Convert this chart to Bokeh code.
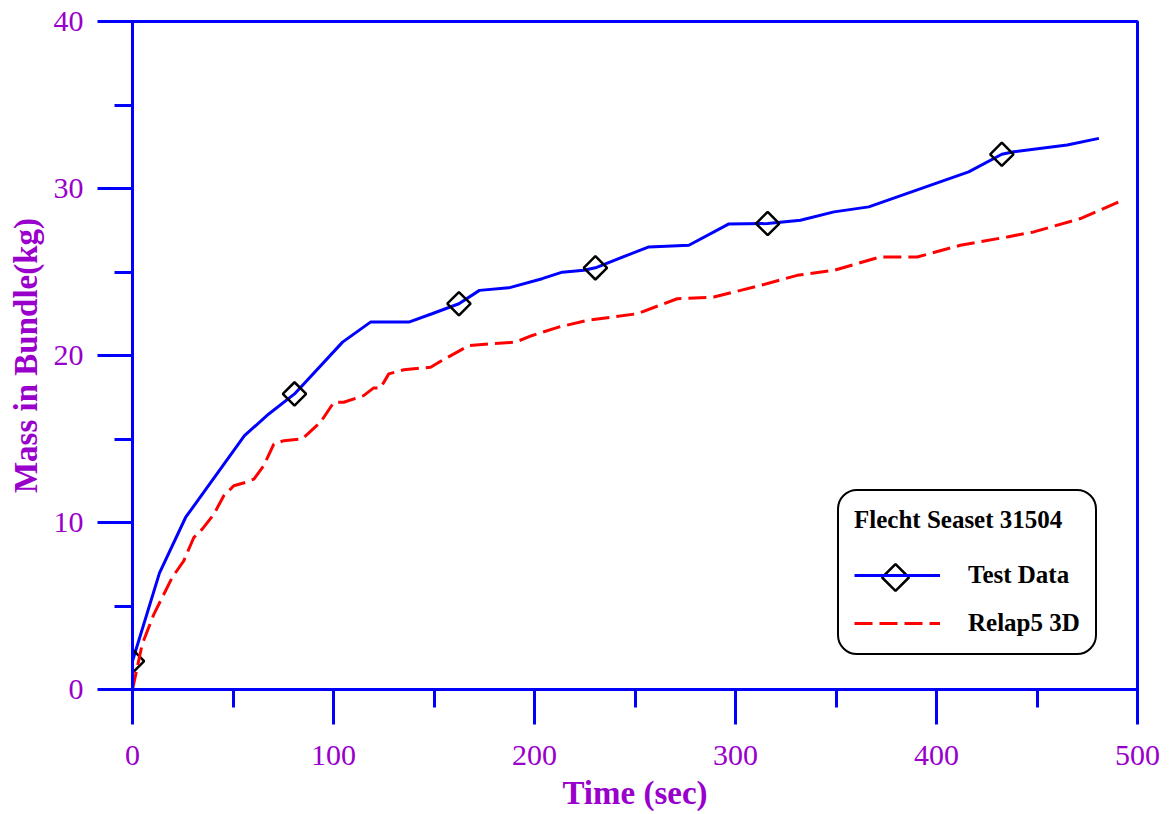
import numpy as np
from bokeh.plotting import figure
from bokeh.models import (Range1d, SingleIntervalTicker, Legend, LegendItem)
from bokeh.embed import file_html
from bokeh.resources import INLINE

# ---------------- data ----------------
test_time = [0, 13.4, 26.4, 55.7, 67.8, 80.6, 104.5, 118.4, 137.5, 149, 162.4,
             172.6, 187.2, 203.8, 213.8, 224.5, 230.3, 246, 256.9, 276.8, 296.5,
             316, 332.3, 349, 366.3, 416, 432.5, 438.5, 465, 480.8]
test_mass = [1.7, 6.97, 10.3, 15.2, 16.5, 17.7, 20.8, 22.0, 22.0, 22.5, 23.1,
             23.9, 24.05, 24.6, 24.99, 25.1, 25.25, 26.0, 26.5, 26.6, 27.87,
             27.9, 28.1, 28.6, 28.9, 31.0, 32.05, 32.2, 32.6, 33.0]

marker_time = [0, 80.6, 162.4, 230.3, 316, 432.5]
marker_mass = [1.7, 17.7, 23.1, 25.25, 27.9, 32.05]

relap_time = [0, 4.8, 10.6, 19.7, 25.5, 30.5, 34.7, 40.5, 45.4, 50.4, 56.2,
              60.4, 65.3, 70.3, 75.3, 84.4, 93.5, 100.2, 105.1, 115, 120,
              123.4, 127.5, 135, 148.3, 154, 161.5, 167.3, 190.5, 198.9, 212,
              226.2, 251, 271, 289.2, 302.5, 312.4, 330.7, 349, 372, 390.4,
              411.9, 435.2, 448.4, 471.6, 490.7]
relap_mass = [0, 2.7, 4.5, 6.7, 7.7, 9.1, 9.6, 10.5, 11.6, 12.2, 12.4,
              12.6, 13.4, 14.7, 14.9, 15.0, 16.0, 17.2, 17.2, 17.6, 18.06,
              18.06, 18.9, 19.15, 19.3, 19.7, 20.2, 20.6, 20.8, 21.2, 21.7,
              22.1, 22.5, 23.4, 23.5, 23.9, 24.2, 24.8, 25.1, 25.9, 25.9,
              26.6, 27.1, 27.4, 28.2, 29.2]

legend_title = "Flecht Seaset 31504"
series_names = ["Test Data", "Relap5 3D"]
x_label = "Time (sec)"
y_label = "Mass in Bundle(kg)"

# ---------------- layout / styling ----------------
FONT = "Liberation Serif"
AXIS_BLUE = "#0000FF"
PURPLE = "#9900CC"

W, H = 1160, 814
BL, BR, BT = 132, 23, 21
FRAME_W, FRAME_H = 1005, 668
BB = H - BT - FRAME_H

# legend geometry (screen px, relative to the frame's bottom-left)
LEG_X, LEG_Y = 705, 34
LEG_PAD, GLYPH_W, GLYPH_H, ITEM_SPACING = 15, 86, 30, 18

p = figure(width=W, height=H, output_backend="svg", toolbar_location=None,
           x_range=Range1d(0, 500), y_range=Range1d(0, 40),
           min_border_left=BL, min_border_right=BR, min_border_top=BT,
           min_border_bottom=BB)
p.extra_x_ranges = {"px": Range1d(0, FRAME_W)}
p.extra_y_ranges = {"px": Range1d(0, FRAME_H)}
p.background_fill_color = "white"
p.border_fill_color = "white"
p.outline_line_color = AXIS_BLUE
p.outline_line_width = 3
p.xgrid.visible = False
p.ygrid.visible = False

p.xaxis.ticker = SingleIntervalTicker(interval=100, num_minor_ticks=2)
p.yaxis.ticker = SingleIntervalTicker(interval=10, num_minor_ticks=2)

for ax in (p.xaxis, p.yaxis):
    ax.axis_line_color = AXIS_BLUE
    ax.axis_line_width = 3
    ax.major_tick_line_color = AXIS_BLUE
    ax.major_tick_line_width = 3
    ax.minor_tick_line_color = AXIS_BLUE
    ax.minor_tick_line_width = 3
    ax.major_tick_in = 0
    ax.major_tick_out = 35
    ax.minor_tick_in = 0
    ax.minor_tick_out = 18
    ax.major_label_text_font = FONT
    ax.major_label_text_font_size = "30px"
    ax.major_label_text_color = PURPLE
    ax.axis_label_text_font = FONT
    ax.axis_label_text_font_size = "33px"
    ax.axis_label_text_font_style = "bold"
    ax.axis_label_text_color = PURPLE

p.xaxis.axis_label = x_label
p.yaxis.axis_label = y_label
p.xaxis.major_label_standoff = 21
p.yaxis.major_label_standoff = 14
p.xaxis.axis_label_standoff = 7
p.yaxis.axis_label_standoff = 7

# ---------------- data renderers ----------------
r_test = p.line(test_time, test_mass, line_color=AXIS_BLUE, line_width=3)
r_mark = p.scatter(marker_time, marker_mass, marker="square", angle=np.pi / 4,
                   size=16.5, fill_color=None, line_color="black", line_width=2.5)
r_relap = p.line(relap_time, relap_mass, line_color="#FF0000", line_width=3,
                 line_dash="18 7")

legend = Legend(items=[LegendItem(label=series_names[0], renderers=[r_test]),
                       LegendItem(label=series_names[1], renderers=[r_relap])],
                location=(LEG_X, LEG_Y), margin=0, padding=LEG_PAD,
                title=legend_title, title_text_font=FONT,
                title_text_font_size="25px", title_text_font_style="bold",
                title_text_color="black", title_standoff=26,
                label_text_font=FONT, label_text_font_size="25px",
                label_text_font_style="bold", label_text_color="black",
                glyph_width=GLYPH_W, glyph_height=GLYPH_H, label_height=GLYPH_H,
                label_standoff=28, spacing=ITEM_SPACING,
                border_line_color="black", border_line_width=2,
                border_line_alpha=1.0,
                background_fill_alpha=0.0)
if "border_radius" in Legend.properties():
    legend.border_radius = 20
p.add_layout(legend, "center")

# legend key diamond for "Test Data" (frame-pixel coordinates, under the legend)
key_x = LEG_X + LEG_PAD + GLYPH_W / 2
key_y = LEG_Y + LEG_PAD + GLYPH_H + ITEM_SPACING + GLYPH_H / 2
r_key = p.scatter([key_x], [key_y], x_range_name="px", y_range_name="px",
                  marker="square", angle=np.pi / 4, size=19,
                  fill_color=None, line_color="black", line_width=2.5)

open("out.html", "w").write(file_html(p, INLINE))
